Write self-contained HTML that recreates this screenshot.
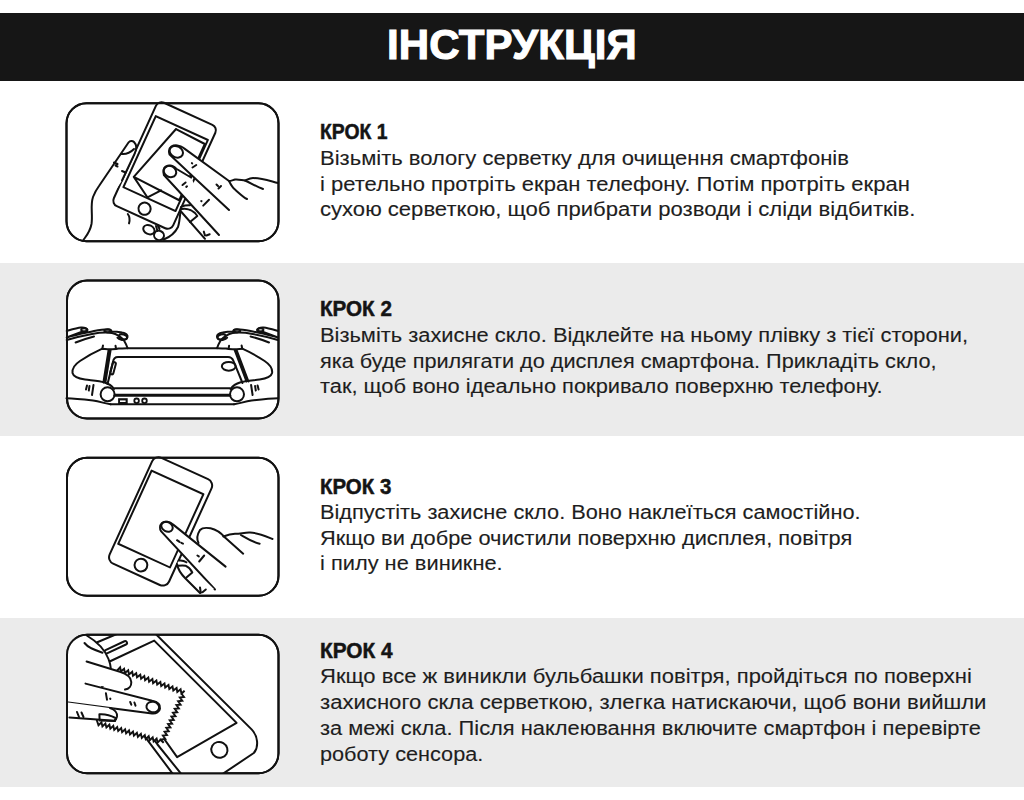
<!DOCTYPE html>
<html><head><meta charset="utf-8"><style>
html,body{margin:0;padding:0;}
body{width:1024px;height:800px;position:relative;overflow:hidden;background:#fff;font-family:"Liberation Sans",sans-serif;}
.band{position:absolute;left:0;width:1024px;}
.t,.h,.b{position:absolute;white-space:nowrap;line-height:1;transform-origin:0 0;}
.t{left:0;width:1024px;text-align:center;color:#fff;font-weight:bold;font-size:42px;-webkit-text-stroke:1.1px #fff;}
.h{left:320px;color:#141414;font-weight:bold;font-size:21.5px;-webkit-text-stroke:0.5px #141414;}
.b{left:320px;color:#1e1e1e;font-size:20px;-webkit-text-stroke:0.12px #1c1c1c;}
svg{position:absolute;left:0;top:0;}
</style></head><body>
<div class="band" style="top:13px;height:68px;background:#161616"></div>
<div class="band" style="top:263px;height:173px;background:#ebebeb"></div>
<div class="band" style="top:618px;height:169px;background:#ebebeb"></div>
<svg width="1024" height="800" viewBox="0 0 1024 800" fill="none" stroke="#111" stroke-width="2" stroke-linecap="round" stroke-linejoin="round">
<g fill="#fff"><rect x="66.5" y="103.25" width="212" height="138" rx="20"/>
<rect x="67" y="280.5" width="211.5" height="138" rx="20"/>
<rect x="67" y="457.75" width="211.5" height="138" rx="20"/>
<rect x="67" y="634.75" width="211.5" height="138.5" rx="20"/></g>
<!-- illustration 1 -->
<g transform="translate(158.5,100.25) rotate(24.5)">
  <rect x="0" y="0" width="65.2" height="113.7" rx="6" fill="#fff"/>
  <rect x="4.1" y="15.6" width="57.3" height="78.1"/>
  <circle cx="32.3" cy="104.5" r="6.1"/>
  <path d="M27.9,18.9 L60.3,20.6 L60.3,82.4 M27.9,18.9 L9.3,80 L60.3,82.4 M9.3,80 L30.3,93 L39.7,80.9"/>
</g>
<!-- left hand -->
<path fill="#fff" d="M83,240.5 C87,235 90,232 91.5,224 C93,214 90,206 93,197 C95,192 96,190 99,186 L128.5,142.5 C130,140.5 132.5,140.5 134,142 C137,145 136.5,150 134.5,154 L122,180.5"/>
<path d="M121.5,154 C126,154.5 131,152 134,149"/>
<path d="M114,162.5 L117.5,164 M115.5,165.5 L117.5,166.5"/>
<path d="M122,171 L125.5,172.5"/>
<path d="M127.8,214 C130,217 130,220 129,223.4"/>
<ellipse cx="148.9" cy="229.7" rx="5.9" ry="4.4" transform="rotate(25 148.9 229.7)"/>
<ellipse cx="159" cy="235.4" rx="5" ry="4.6" transform="rotate(25 159 235.4)"/>
<path d="M156,226 L157.5,231 M158,225.5 L159.5,229"/>
<path d="M181,207 C180,213 180,221 178,227 C175,233 170,237 163.75,239.5"/>
<!-- right hand fingers -->
<path fill="#fff" d="M278,183 C270,181 262,178 253,178 C249,178 247,180 245,180.5 C241,180 238,179 235,179.5 C233,180 231,181 229,181 L183.75,148.1 C180,145 174.5,144.6 171.3,146.6 C169,148.2 168.6,151.5 169.6,154.6 L188.75,172.5 L229,210"/>
<path fill="#fff" d="M219,235 L163.9,175 C162.6,172 163.5,167.5 167.5,166 C170.5,165 174,166.3 176.25,168.75 L191,177.5"/>
<ellipse cx="176.3" cy="151.8" rx="7" ry="5.5" transform="rotate(28 176.3 151.8)"/>
<ellipse cx="169.9" cy="171.4" rx="6.6" ry="5.4" transform="rotate(30 169.9 171.4)"/>
<path d="M229,181 C231,185 233,188 235,189.5 C239,193 243,197 247,199"/>
<path d="M245,180.5 C251,183 257,187 263,189"/>
<path d="M191.9,163.1 L192.2,163.5 M192.5,167.5 L196.25,165"/>
<path d="M216.5,184.5 L218,186 M218.5,188.5 L221,186"/>
<path d="M182.5,185 L185.6,182.5 M186.25,186.9 L187,186.3"/>
<path d="M201.2,201 L201.5,201.2 M203.2,205.6 L209,199.8"/>
<!-- ring finger under phone -->
<path d="M181,211.5 L205,238.8"/>
<path d="M181.7,209 C188,208 194,211 197.3,216 L190,222"/>
<path d="M182.4,206.3 C184,205.5 187,205.2 190,205.3"/>
<path d="M203.8,231.6 L205,235.5 M206.4,235.5 L209.7,234.2"/>
<!-- illustration 2 -->
<g id="h2l">
<!-- fingers top-left -->
<path fill="#fff" d="M66.7,331 C72,329.5 77,328 81,327.6 C84,327.4 86.5,328 87.5,330 C87,331.5 85,332 82,331.7 L66.7,337.5 C76,334.5 85,333 94,331 C99,330 104,329.3 108,329.3 C110.5,329.5 111.5,330.5 111.5,331.5 C113,331.5 118,331.7 122,332.5 C126,333 128,335 127.5,337 C127,339 125,340 122,340 C120,339.5 118,338.5 117.5,337.7"/>
<path d="M66.7,340 C75,337.5 84,335.5 92,334 C100,332.5 107,332.3 112,333 C117,334 121,337 124,340.5 C125.5,343 126.5,345 127.5,348"/>
<path d="M75.6,342.5 C82,340 88,338 94,336.5"/>
<ellipse cx="84.2" cy="329.8" rx="3" ry="1.6"/>
<ellipse cx="107.5" cy="330.8" rx="3.2" ry="1.4"/>
<ellipse cx="123" cy="336.8" rx="4.2" ry="2.4" transform="rotate(15 123 336.8)"/>
<!-- palm -->
<path fill="#fff" d="M127.5,348.3 C124,348.3 121,348.5 118.5,348.5 C116,349.5 111,349.5 102.3,348.7 C95,352 86,357 80,361 C74,365 72,369 72.5,373 C73.5,377 78,378.5 85,379.5 C93,380.5 100,381 104,382.3 C108,383.5 112,386 114,389"/>
<path d="M102.3,348.7 L103,345.5 M116,348.5 L115.5,345.8"/>
<!-- wrinkles -->
<path d="M87,385.5 L86,389.5 M89.5,386 L88.8,390.5 M93.5,385 L92,395"/>
<!-- lower contour -->
<path d="M66.5,398.3 C75,398.5 84,399.5 93,400.5 C100,401.5 105,403.5 110.5,404.3"/>
<circle cx="107.6" cy="394.3" r="7" fill="#fff"/>
</g>
<use href="#h2l" transform="translate(344.6,0) scale(-1,1)"/>
<!-- glass -->
<path d="M127.5,348.3 L217.1,348.3"/>
<path d="M108.6,350 L103.4,382.5 M110.6,350 L105.4,382.5"/>
<path d="M234.6,350 L246.5,381.5 M236.6,350 L248.5,381.5"/>
<!-- screen -->
<path d="M113,362 C113.5,358.5 115,357 118,357 L228,357 C231,357 232.5,358.5 233.5,361 L242.5,383"/>
<path d="M113,362 L107.5,384"/>
<rect x="111.5" y="362" width="3.2" height="12.5" rx="1.6" transform="rotate(15 113 368)"/>
<ellipse cx="228.75" cy="366.3" rx="6.9" ry="4.4"/>
<!-- bottom body lines -->
<path d="M114.6,388.2 L230,388.2"/>
<path d="M115,395.2 L229.6,395.2" stroke-width="3"/>
<path d="M110.5,404.3 L234,404.3"/>
<rect x="118.1" y="398.2" width="9.6" height="6.6" fill="#111" stroke="none"/>
<rect x="120" y="400.4" width="5.6" height="1.6" fill="#fff" stroke="none"/>
<circle cx="136.6" cy="400.8" r="2.3" stroke-width="1.8"/>
<circle cx="144.5" cy="400.8" r="2.3" stroke-width="1.8"/>
<!-- illustration 3 -->
<g transform="translate(155,454.96) rotate(24.5)">
  <rect x="0" y="0" width="65.3" height="116.3" rx="7" fill="#fff"/>
  <rect x="3.4" y="15.7" width="56.9" height="80.45"/>
  <circle cx="32.9" cy="106" r="6.4"/>
</g>
<!-- bent middle finger + hand back -->
<path fill="#fff" d="M272.5,539 C265,536 256,532 249,532.6 C243,533 238,534 235,533.75 C230,534 226,535.5 223.3,536.5 C221,533 216,529.5 210.5,528.3 C206,527.5 202,527.8 200.5,529.5 C198,532 197,535 197,538.5 C197,540 197.5,541 198,542.5 L225.6,566.6 L243.2,553.7 Z" stroke="none"/>
<path d="M272.5,539 C265,536 256,532 249,532.6 C243,533 238,534 235,533.75 C230,534 226,535.5 223.3,536.5"/>
<path d="M198.5,543 C197,540 196.8,535 200,530 C202,527.8 206,527.5 210.5,528.3 C216,529.5 221,533 225,537.5 L243.2,553.7"/>
<path d="M240.9,535 C246,538 252,542 259.6,543.7"/>
<!-- index finger -->
<path fill="#fff" d="M225.6,566.6 L172.9,524.4 C170,521.5 165,521 162,523 C159.5,525.5 159.5,529 161.2,531.4 L215,589.5"/>
<ellipse cx="167" cy="526.8" rx="6" ry="4.6" transform="rotate(28 167 526.8)"/>
<path d="M177,540.2 L179.5,541.9 M181.3,542.8 L183,543.6"/>
<path d="M197.4,555.5 L198.8,556.4 M199.2,561.5 L204.2,555.5"/>
<!-- ring finger under -->
<path fill="#fff" d="M178.7,560.6 C180,560.5 183,560.5 186,562 L214,589 L200,593 C194,587 188,581 185.5,578.5 C181,574 177,569 177,564 Z" stroke="none"/>
<path d="M177,564 C178,570 181,574 185.5,578.5 L200,593"/>
<path d="M178.7,560.6 C181,560.3 184,560.6 186.4,562.3"/>
<path d="M177.9,565.7 C181,565.5 184,565.5 185.5,565.7 C188,566.8 190.5,569 192.3,572.5 L186.4,577.6"/>
<path d="M200,587.5 L200.8,592.8 M202.5,592.2 L205.8,589.5"/>
<!-- illustration 4 -->
<clipPath id="c4"><rect x="66" y="634.75" width="213" height="138.5" rx="20"/></clipPath>
<g clip-path="url(#c4)">
<!-- phone -->
<path fill="#fff" d="M96.2,642.2 L118,633 L155.5,633.8 L251.6,729.4 C258,736 259,747 253.8,753 L221,775 L175,775 L147.7,740.3 Z" stroke="none"/>
<path d="M97.25,642.25 L118,633.5 M155.5,633.8 L251.6,729.4 C258,736 259,747 253.8,753 L221,775"/>
<path d="M147.7,740.3 L174,775.5 M157.5,744.5 L182.5,775.5 M130,717 L147.7,740.3 M140,721 L157.5,744.5"/>
<path d="M109.6,661.5 L154.2,640.6 L236.6,722.9 L177.1,757.1 L155,726"/>
<rect x="103.5" y="645.5" width="24.5" height="3.6" rx="1.8" transform="rotate(-25 115.7 647.3)"/>
<ellipse cx="219.4" cy="749.8" rx="8.2" ry="7.8" transform="rotate(30 219.4 749.8)"/>
<!-- cloth -->
<path fill="#fff" stroke-linejoin="miter" stroke-width="1.9" d="M120.1,667.3 L120.9,671.4 L124.1,668.8 L124.9,672.9 L128.2,670.2 L129.0,674.4 L132.2,671.7 L133.0,675.8 L136.2,673.2 L137.0,677.3 L140.3,674.7 L141.1,678.8 L144.3,676.1 L145.1,680.2 L148.3,677.6 L149.1,681.7 L152.4,679.1 L153.1,683.2 L156.4,680.5 L157.2,684.6 L160.4,682.0 L161.2,686.1 L164.5,683.5 L165.2,687.6 L168.5,684.9 L169.3,689.1 L172.5,686.4 L173.3,690.5 L176.6,687.9 L177.3,692.0 L180.6,689.3 L181.4,693.5 L184.6,690.8 L181.5,693.7 L184.0,697.0 L179.8,697.5 L182.3,700.8 L178.1,701.3 L180.6,704.7 L176.4,705.1 L178.9,708.5 L174.7,708.9 L177.2,712.3 L173.0,712.7 L175.5,716.1 L171.4,716.5 L173.8,719.9 L169.7,720.3 L172.1,723.7 L168.0,724.1 L170.4,727.5 L166.3,727.9 L168.7,731.3 L164.6,731.7 L167.0,735.1 L162.9,735.6 L165.3,738.9 L161.2,739.4 L163.6,742.7 L160.5,739.7 L157.6,742.6 L156.6,738.5 L153.6,741.4 L152.7,737.4 L149.7,740.3 L148.7,736.2 L145.7,739.1 L144.8,735.1 L141.8,737.9 L140.9,733.9 L137.9,736.8 L136.9,732.8 L133.9,735.6 L133.0,731.6 L130.0,734.5 L129.0,730.4 L126.1,733.3 L125.1,729.3 L122.1,732.2 L121.2,728.1 L118.2,731.0 L117.2,727.0 L114.2,729.9 L113.3,725.8 L110.3,728.7 L109.4,724.7 L106.4,727.5 L105.4,723.5 L102.4,726.4 L101.5,722.4 L98.5,725.2 L90,700 Z"/>
<!-- ring finger bent (top-left) -->
<path fill="#fff" d="M66,634 L86.75,635.5 C96,641 105,650 108.5,659 C110,663 110.7,666 110.75,668 L86.6,661.5 L66,661 Z" stroke="none"/>
<path d="M86.75,635.5 C96,641 105,650 108.5,659 C110,663 110.7,666 110.75,668"/>
<path d="M84.5,643 C87,646 89,647.5 91.25,648.25 C95,650 99,651.5 102.5,652.75"/>
<!-- middle finger -->
<path fill="#fff" d="M86.6,661.5 L119.9,671.7 C126,673.5 131,677 131.3,682 C131.5,687 128,690 123,689.6 C112,688 98,685.5 85.5,683.6 Z" stroke="none"/>
<path d="M86.6,661.5 L119.9,671.7 C126,673.5 131,677 131.3,682 C131.5,686 129,689 125,689.6"/>
<!-- index finger -->
<path fill="#fff" d="M66,683 L85.5,683.6 L152.1,700.8 C158,702 160.5,705 160,708.5 C159.5,712 156,714 152,713.5 L68.3,702.5 L66,702 Z" stroke="none"/>
<path d="M85.5,683.6 L152.1,700.8 C158,702 160.5,705 160,708.5 C159.5,712 156,714 152,713.5 L68.3,702.5"/>
<ellipse cx="152.8" cy="707" rx="6.4" ry="5.3" transform="rotate(12 152.8 707)"/>
<path d="M105.9,693.2 L107,699.7 M110.2,698.6 L110.4,698.9"/>
<path d="M130.2,702 L131.3,704.7 M134.4,702.5 L135.5,705.7"/>
<!-- thumb -->
<path fill="#fff" d="M66,702 L68.3,702.5 L113,708.5 C117,711 118,716 114.5,720.8 L69.4,717.6 L66,717 Z" stroke="none"/>
<path d="M110,708 C115,709.5 117.5,713 117,716.5 C116.5,719 115.5,720 114.5,720.8 L69.4,717.6"/>
<path d="M99.4,714.3 C104,714 110,715 115.5,718 L115,721 L99.6,720.5 Z"/>
<path d="M77,712 L79,717 M81.5,712.5 L83.5,717"/>
</g>

<rect x="66.5" y="103.25" width="212" height="138" rx="20"/>
<rect x="67" y="280.5" width="211.5" height="138" rx="20"/>
<rect x="67" y="457.75" width="211.5" height="138" rx="20"/>
<rect x="67" y="634.75" width="211.5" height="138.5" rx="20"/>
</svg>
<div class="t" id="title" style="top:23.75px;letter-spacing:0.111px">ІНСТРУКЦІЯ</div>
<div class="h" id="h1" style="top:122.30px;letter-spacing:0.000px;transform:scaleX(0.9002)">КРОК 1</div>
<div class="b" id="l11" style="top:147.57px;letter-spacing:0.000px;transform:scaleX(1.1004)">Візьміть вологу серветку для очищення смартфонів</div>
<div class="b" id="l12" style="top:173.67px;letter-spacing:0.000px;transform:scaleX(1.1013)">і ретельно протріть екран телефону. Потім протріть екран</div>
<div class="b" id="l13" style="top:199.37px;letter-spacing:0.000px;transform:scaleX(1.1034)">сухою серветкою, щоб прибрати розводи і сліди відбитків.</div>
<div class="h" id="h2" style="top:299.30px;letter-spacing:0.000px;transform:scaleX(0.9591)">КРОК 2</div>
<div class="b" id="l21" style="top:325.07px;letter-spacing:0.000px;transform:scaleX(1.0934)">Візьміть захисне скло. Відклейте на ньому плівку з тієї сторони,</div>
<div class="b" id="l22" style="top:350.67px;letter-spacing:0.000px;transform:scaleX(1.0847)">яка буде прилягати до дисплея смартфона. Прикладіть скло,</div>
<div class="b" id="l23" style="top:376.27px;letter-spacing:0.000px;transform:scaleX(1.0920)">так, щоб воно ідеально покривало поверхню телефону.</div>
<div class="h" id="h3" style="top:476.70px;letter-spacing:0.000px;transform:scaleX(0.9505)">КРОК 3</div>
<div class="b" id="l31" style="top:501.87px;letter-spacing:0.000px;transform:scaleX(1.0871)">Відпустіть захисне скло. Воно наклеїться самостійно.</div>
<div class="b" id="l32" style="top:528.07px;letter-spacing:0.000px;transform:scaleX(1.0887)">Якщо ви добре очистили поверхню дисплея, повітря</div>
<div class="b" id="l33" style="top:552.77px;letter-spacing:0.000px;transform:scaleX(1.0909)">і пилу не виникне.</div>
<div class="h" id="h4" style="top:640.70px;letter-spacing:0.000px;transform:scaleX(0.9676)">КРОК 4</div>
<div class="b" id="l41" style="top:666.47px;letter-spacing:0.000px;transform:scaleX(1.1000)">Якщо все ж виникли бульбашки повітря, пройдіться по поверхні</div>
<div class="b" id="l42" style="top:691.87px;letter-spacing:0.000px;transform:scaleX(1.1052)">захисного скла серветкою, злегка натискаючи, щоб вони вийшли</div>
<div class="b" id="l43" style="top:718.07px;letter-spacing:0.000px;transform:scaleX(1.0934)">за межі скла. Після наклеювання включите смартфон і перевірте</div>
<div class="b" id="l44" style="top:743.57px;letter-spacing:0.000px;transform:scaleX(1.0839)">роботу сенсора.</div>
</body></html>
